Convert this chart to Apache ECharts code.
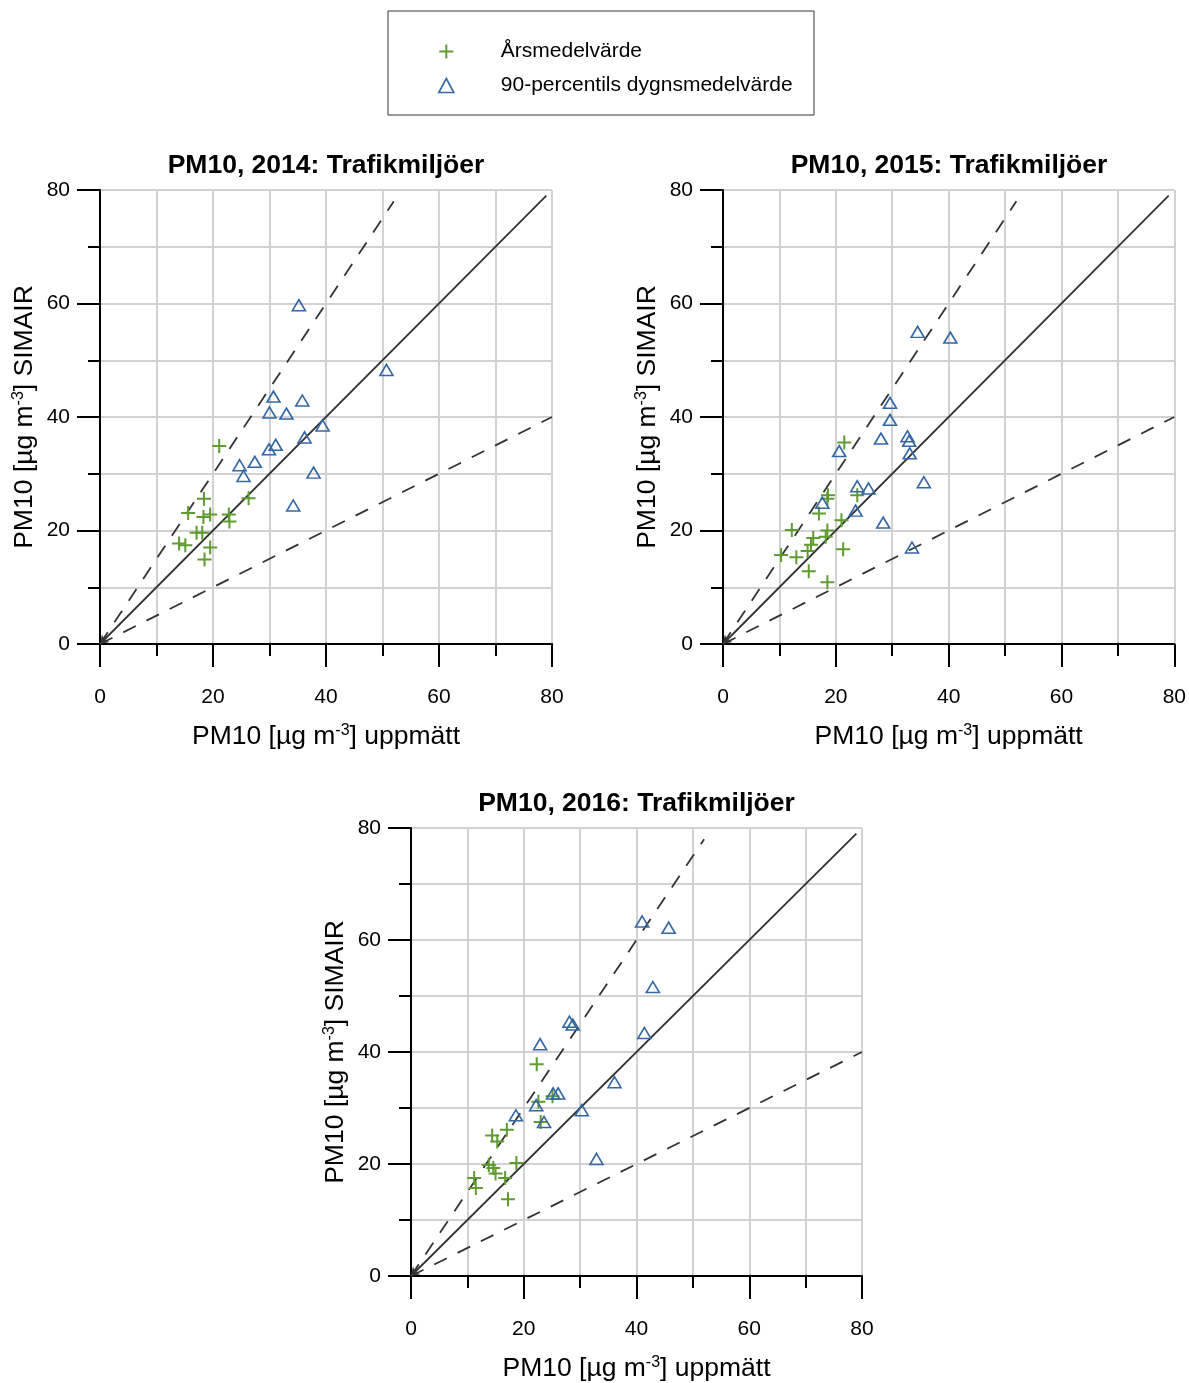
<!DOCTYPE html>
<html>
<head>
<meta charset="utf-8">
<script src="https://cdn.jsdelivr.net/npm/echarts@6/dist/echarts.min.js"></script>
<style>
  html, body { margin: 0; padding: 0; background: #fff; }
  #chart { width: 1189px; height: 1383px; }
</style>
</head>
<body>
<div id="chart"></div>
<script>
// [uppmätt, SIMAIR] pairs
const annual2014 = [[21.1, 34.9], [18.4, 25.6], [26.3, 25.7], [15.6, 23.1], [18.3, 22.4], [19.5, 22.8],
  [22.8, 22.8], [22.9, 21.6], [17.1, 19.6], [18.1, 19.6], [14.0, 17.7], [15.1, 17.4], [19.5, 17.0], [18.5, 14.9]];
const p90_2014 = [[35.2, 59.7], [50.7, 48.3], [30.7, 43.6], [35.8, 42.9], [30.0, 40.8], [33.0, 40.6], [39.4, 38.5],
  [36.2, 36.4], [31.1, 35.1], [29.9, 34.3], [27.4, 32.1], [24.7, 31.5], [25.4, 29.6], [37.8, 30.2], [34.2, 24.4]];

const annual2015 = [[21.5, 35.5], [18.6, 26.2], [18.5, 25.6], [23.8, 26.2], [17.0, 23.0], [21.0, 21.8], [12.2, 20.1],
  [16.0, 18.7], [18.5, 20.0], [18.2, 18.9], [15.6, 17.5], [15.0, 16.4], [10.3, 15.7], [13.0, 15.3], [21.3, 16.7],
  [15.2, 12.8], [18.5, 10.9]];
const p90_2015 = [[34.5, 55.0], [40.3, 54.0], [29.6, 42.5], [29.6, 39.5], [28.0, 36.2], [32.7, 36.6], [33.0, 35.8],
  [33.1, 33.6], [20.6, 34.0], [35.6, 28.5], [23.8, 27.8], [25.8, 27.4], [17.6, 24.9], [23.5, 23.5], [28.4, 21.4], [33.5, 17.0]];

const annual2016 = [[22.3, 37.8], [22.6, 31.1], [25.1, 32.1], [23.0, 27.5], [17.0, 26.1], [14.4, 25.1], [15.3, 24.0],
  [13.8, 19.8], [14.6, 19.3], [18.7, 20.2], [15.0, 18.3], [16.7, 17.5], [11.2, 17.5], [11.5, 15.7], [17.2, 13.7]];
const p90_2016 = [[41.0, 63.3], [45.7, 62.2], [42.9, 51.6], [28.1, 45.4], [28.7, 44.9], [41.4, 43.4], [22.9, 41.4],
  [36.1, 34.6], [25.2, 32.6], [26.1, 32.6], [22.2, 30.5], [30.3, 29.6], [23.6, 27.5], [18.6, 28.7], [32.9, 20.9]];

const oneToOne = [[79, 79], [0, 0]];
const upperLine = [[0, 0], [52, 78]];
const lowerLine = [[0, 0], [80, 40]];

const titles = ['PM10, 2014: Trafikmiljöer', 'PM10, 2015: Trafikmiljöer', 'PM10, 2016: Trafikmiljöer'];
const legendNames = ['Årsmedelvärde', '90-percentils dygnsmedelvärde'];
const annualSets = [annual2014, annual2015, annual2016];
const p90Sets = [p90_2014, p90_2015, p90_2016];

const green = '#5e9b30';
const blue = '#3467a3';
const font = '"Liberation Sans", Arial, sans-serif';
const plusPath = 'path://M6,0V12M0,6H12';

const grids = [
  { left: 100, top: 190, width: 452, height: 454 },
  { left: 723, top: 190, width: 452, height: 454 },
  { left: 411, top: 828, width: 451, height: 453 }
];

const supRich = { sup: { fontSize: 16, verticalAlign: 'top', fontFamily: font, color: '#000' } };

function makeAxis(i, isX) {
  return {
    gridIndex: i,
    type: 'value',
    min: 0, max: 80, interval: 20,
    name: isX ? 'PM10 [µg m{sup|-3}] uppmätt' : 'PM10 [µg m{sup|-3}] SIMAIR',
    nameLocation: 'middle',
    nameGap: isX ? 79 : 62,
    nameTextStyle: { fontSize: 26.5, fontFamily: font, color: '#000', rich: supRich },
    axisLine: { show: true, onZero: false, lineStyle: { color: '#000', width: 2 } },
    axisTick: { show: true, length: 23, lineStyle: { color: '#000', width: 2 } },
    minorTick: { show: true, splitNumber: 2, length: 12, lineStyle: { color: '#000', width: 2 } },
    axisLabel: { margin: isX ? 43 : 30, fontSize: 21, fontFamily: font, color: '#000' },
    splitLine: { show: true, lineStyle: { color: '#d2d2d2', width: 2 } },
    minorSplitLine: { show: true, lineStyle: { color: '#d2d2d2', width: 2 } }
  };
}

const series = [];
for (let i = 0; i < 3; i++) {
  series.push({
    type: 'lines', coordinateSystem: 'cartesian2d', xAxisIndex: i, yAxisIndex: i,
    symbol: ['none', 'arrow'], symbolSize: 8, silent: true, z: 1,
    lineStyle: { color: '#333', width: 1.8, opacity: 1 },
    data: [{ coords: oneToOne }]
  });
  series.push({
    type: 'lines', coordinateSystem: 'cartesian2d', xAxisIndex: i, yAxisIndex: i,
    silent: true, z: 1,
    lineStyle: { color: '#333', width: 1.8, opacity: 1, type: [14, 12] },
    data: [{ coords: upperLine }, { coords: lowerLine }]
  });
  series.push({
    name: legendNames[0], type: 'scatter', xAxisIndex: i, yAxisIndex: i,
    symbol: plusPath, symbolSize: 14, z: 3,
    itemStyle: { color: 'rgba(0,0,0,0)', borderColor: green, borderWidth: 2, opacity: 1 },
    data: annualSets[i]
  });
  series.push({
    name: legendNames[1], type: 'scatter', xAxisIndex: i, yAxisIndex: i,
    symbol: 'triangle', symbolSize: [13, 11], z: 3,
    itemStyle: { color: 'rgba(0,0,0,0)', borderColor: blue, borderWidth: 1.6, opacity: 1 },
    data: p90Sets[i]
  });
}

const titleGraphics = grids.map((g, i) => ({
  type: 'text',
  x: g.left + g.width / 2,
  y: g.top - 24,
  style: {
    text: titles[i], fontSize: 26.5, fontWeight: 'bold', fontFamily: font,
    fill: '#000', textAlign: 'center', textVerticalAlign: 'middle'
  }
}));

const chart = echarts.init(document.getElementById('chart'), null, { renderer: 'canvas' });
chart.setOption({
  animation: false,
  backgroundColor: '#fff',
  grid: grids,
  xAxis: grids.map((g, i) => makeAxis(i, true)),
  yAxis: grids.map((g, i) => makeAxis(i, false)),
  legend: {
    orient: 'vertical',
    left: 433, top: 36,
    itemWidth: 15, itemHeight: 14, itemGap: 13,
    textStyle: { fontSize: 21, fontFamily: font, color: '#000', padding: [0, 0, 0, 42] },
    data: [
      { name: legendNames[0], icon: plusPath, itemStyle: { color: 'rgba(0,0,0,0)', borderColor: green, borderWidth: 2 } },
      { name: legendNames[1], icon: 'triangle', itemStyle: { color: 'rgba(0,0,0,0)', borderColor: blue, borderWidth: 1.6 } }
    ],
    selectedMode: false
  },
  graphic: [
    { type: 'rect', shape: { x: 388, y: 11, width: 426, height: 104 }, style: { fill: 'none', stroke: '#333', lineWidth: 1 } }
  ].concat(titleGraphics),
  series: series
});
</script>
</body>
</html>
